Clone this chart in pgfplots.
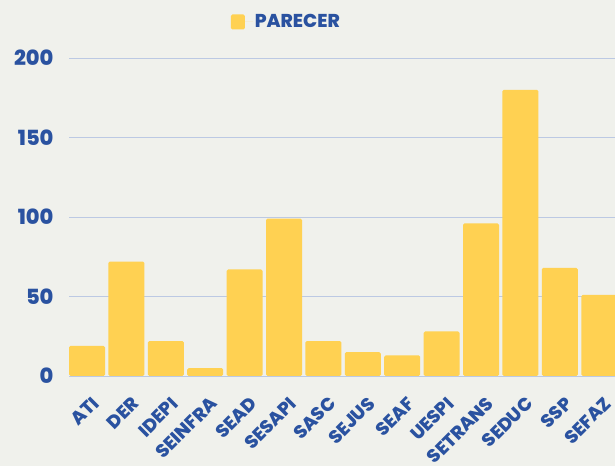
\documentclass[border=0pt]{standalone}
\usepackage{pgfplots}
\pgfplotsset{compat=1.18}
\usepackage{fontspec}
\setmainfont{Poppins}[BoldFont={Poppins ExtraBold}]
\definecolor{barc}{HTML}{FFD152}
\definecolor{txt}{HTML}{2A52A0}
\definecolor{gridc}{HTML}{BCC9E3}
\definecolor{bg}{HTML}{F0F1EC}
\begin{document}
\begin{tikzpicture}[x=1bp,y=1bp]
\fill[bg] (-69,-90) rectangle (546,376);
\begin{scope}
\clip (-69,-90) rectangle (546,376);
\begin{axis}[
  at={(0,0)}, anchor=south west,
  scale only axis, width=546bp, height=318bp,
  xmin=-0.457, xmax=13.4, ymin=0, ymax=200,
  ybar, bar width=36bp, bar shift=0pt,
  axis line style={draw=none},
  tick style={draw=none},
  ytick={0,50,100,150,200},
  ymajorgrids, grid style={gridc, line width=0.8pt},
  xtick={0,...,13},
  xticklabels={ATI,DER,IDEPI,SEINFRA,SEAD,SESAPI,SASC,SEJUS,SEAF,UESPI,SETRANS,SEDUC,SSP,SEFAZ},
  x tick label style={xshift=9bp, yshift=-20bp, rotate=45, anchor=east, font=\fontsize{18.5}{20}\selectfont\bfseries, text=txt, inner sep=0pt},
  y tick label style={font=\fontsize{21}{23}\selectfont\bfseries, text=txt},
  yticklabel style={xshift=-12bp},
  /pgf/number format/assume math mode=true,
  legend style={at={(0.398,1)}, anchor=center, yshift=36bp, draw=none, fill=none, font=\fontsize{18.7}{20}\selectfont\bfseries, text=txt},
  legend image code/.code={\path (0bp,0bp) -- (22bp,0bp); \fill[barc] (0bp,-7.5bp) rectangle (14bp,7.5bp);},
]
\addplot[fill=barc, draw=none, rounded corners=1.5bp] coordinates {
(0,19) (1,72) (2,22) (3,5) (4,67) (5,99) (6,22) (7,15) (8,13) (9,28) (10,96) (11,180) (12,68) (13,51)};
\addlegendentry{PARECER}
\end{axis}
\end{scope}
\pgfresetboundingbox
\useasboundingbox (-69,-90) rectangle (546,376);
\end{tikzpicture}
\end{document}
